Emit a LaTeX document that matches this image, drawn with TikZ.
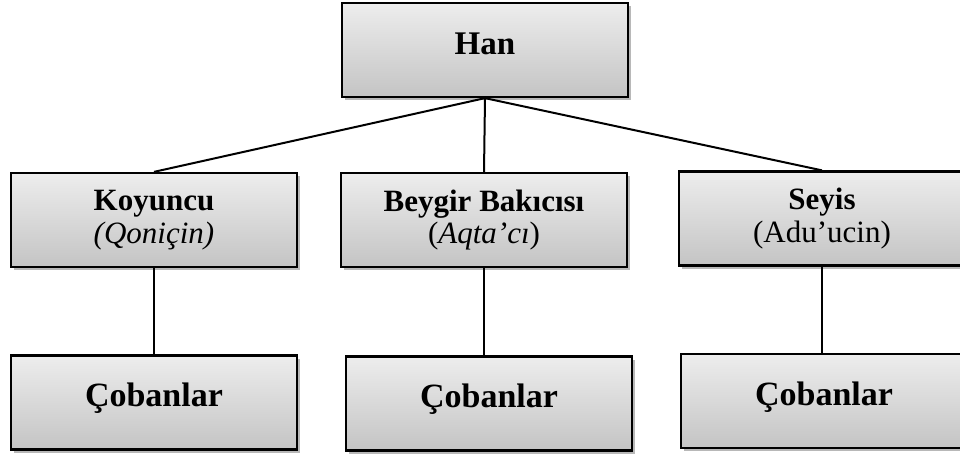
\documentclass[tikz,border=0pt]{standalone}
\usepackage{fontspec}
\setmainfont{Liberation Serif}
\usetikzlibrary{shadows}
\definecolor{boxtop}{HTML}{EDEDED}
\definecolor{boxbottom}{HTML}{C4C4C4}
\tikzset{
  orgbox/.style={draw=black, line width=1.7pt, top color=boxtop, bottom color=boxbottom,
    minimum width=214.5pt, minimum height=70.5pt, inner sep=0pt, align=center,
    drop shadow={shadow xshift=2.2pt, shadow yshift=-2.6pt, opacity=0.28, fill=black}},
  onelinetext/.style={text height=0.66em, text depth=0pt},
  headfont/.style={font=\fontsize{24.75}{26}\selectfont\bfseries},
  midfont/.style={font=\fontsize{23.25}{24.5}\selectfont},
  basefont/.style={font=\fontsize{25.5}{27}\selectfont\bfseries},
  link/.style={draw=black, line width=1.5pt}
}
\begin{document}
\begin{tikzpicture}[x=0.75pt,y=-0.75pt]
  \clip (0,0) rectangle (960,456);
  \fill[white] (0,0) rectangle (960,456);

  % top level
  \node[orgbox, headfont, onelinetext] (han) at (485,50) {Han};

  % middle level
  \node[orgbox, midfont] (koy) at (154,220) {\textbf{Koyuncu}\\\textit{(Qoniçin)}};
  \node[orgbox, midfont] (bey) at (484,220) {\textbf{Beygir Bakıcısı}\\(\textit{Aqta’cı})};
  \node[orgbox, midfont] (sey) at (822,218.5) {\textbf{Seyis}\\(Adu’ucin)};

  % bottom level
  \node[orgbox, basefont, onelinetext] (cob1) at (154,402.5) {Çobanlar};
  \node[orgbox, basefont, onelinetext] (cob2) at (489,403.5) {Çobanlar};
  \node[orgbox, basefont, onelinetext] (cob3) at (824,401) {Çobanlar};

  % connectors
  \draw[link] (han.south) -- (koy.north);
  \draw[link] (han.south) -- (bey.north);
  \draw[link] (han.south) -- (sey.north);
  \draw[link] (koy.south) -- (cob1.north);
  \draw[link] (bey.south) -- (bey.south |- cob2.north);
  \draw[link] (sey.south) -- (sey.south |- cob3.north);
\end{tikzpicture}
\end{document}
